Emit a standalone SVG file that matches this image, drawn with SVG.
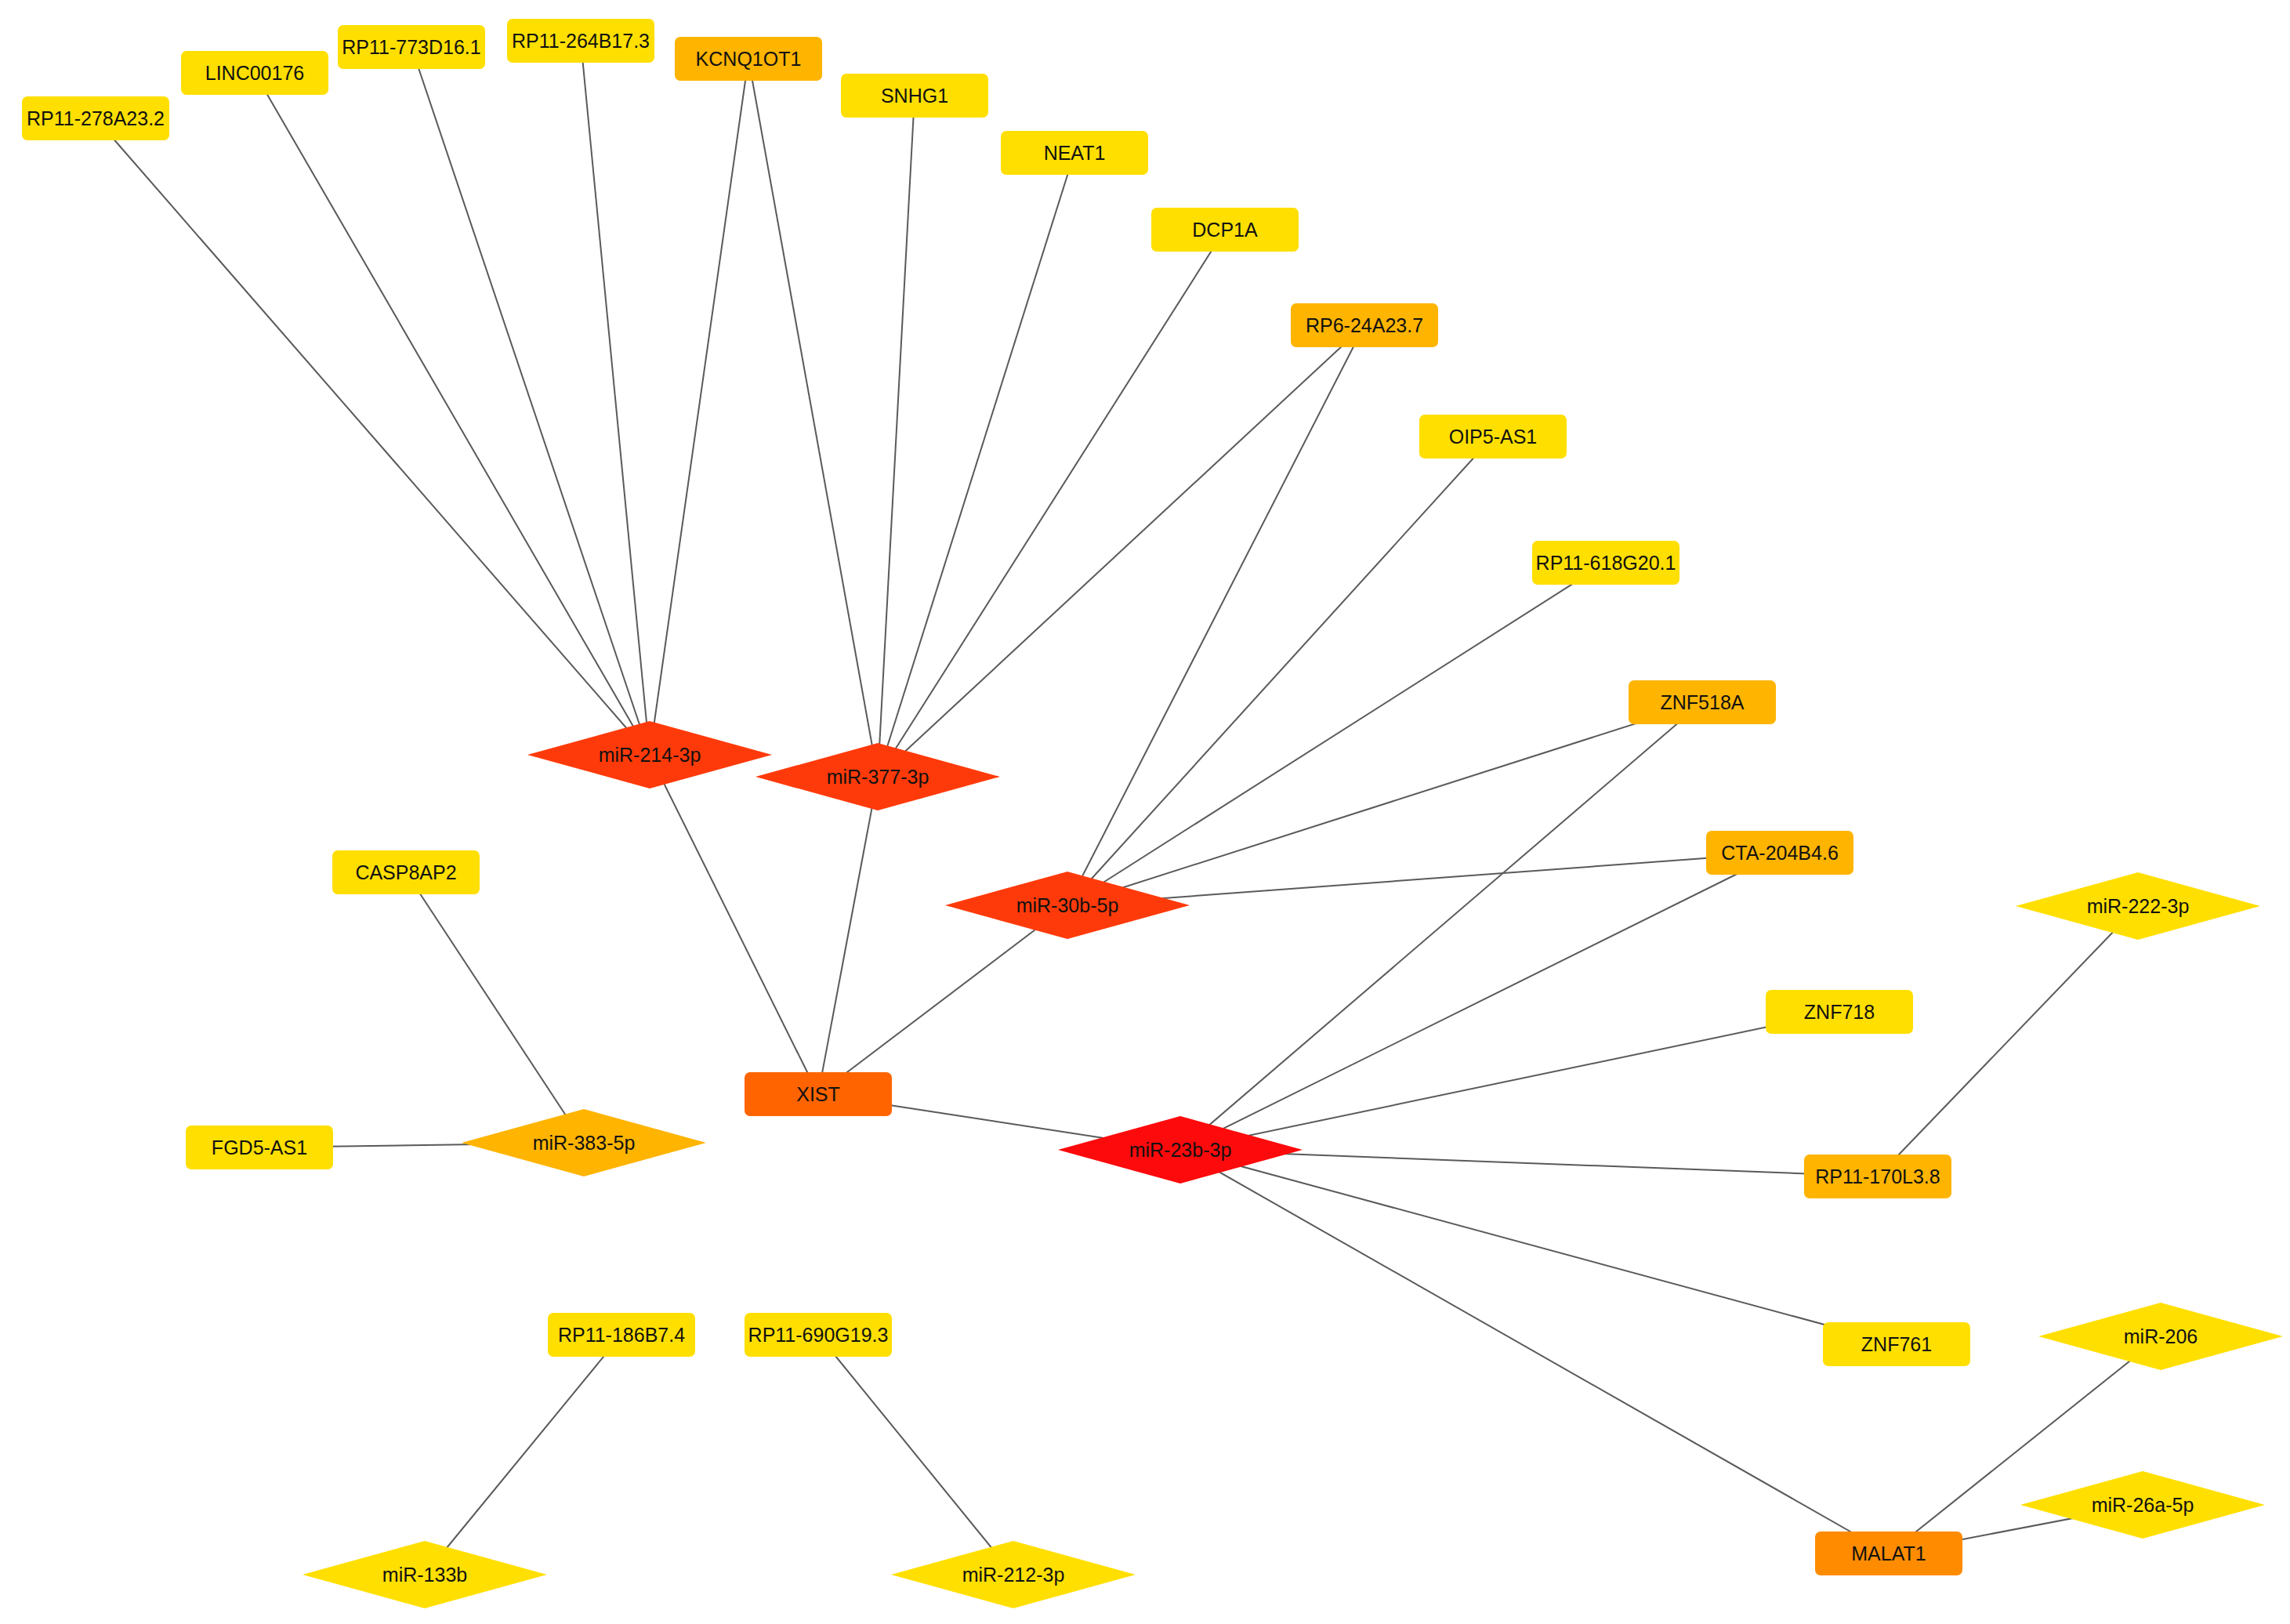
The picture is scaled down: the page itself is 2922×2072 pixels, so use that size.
<svg xmlns="http://www.w3.org/2000/svg" width="2922" height="2072" viewBox="0 0 2922 2072">
<style>
.e{stroke:#5a5a5a;stroke-width:2;fill:none}
.r{rx:7;ry:7}
.y{fill:#FFDF00}
.o{fill:#FFB400}
.m{fill:#FF8C00}
.x{fill:#FF6400}
.d{fill:#FF3A0A}
.rd{fill:#FC0A0C}
text{font-family:"Liberation Sans",Arial,sans-serif;font-size:25px;fill:#111;text-anchor:middle;dominant-baseline:central}
</style>
<rect width="2922" height="2072" fill="#fff"/>
<g id="connectors">
<line class="e" x1="122" y1="151" x2="829" y2="963"/>
<line class="e" x1="325" y1="93" x2="829" y2="963"/>
<line class="e" x1="525" y1="60" x2="829" y2="963"/>
<line class="e" x1="741" y1="52" x2="829" y2="963"/>
<line class="e" x1="955" y1="75" x2="829" y2="963"/>
<line class="e" x1="1044" y1="1396" x2="829" y2="963"/>
<line class="e" x1="955" y1="75" x2="1120" y2="991"/>
<line class="e" x1="1167" y1="122" x2="1120" y2="991"/>
<line class="e" x1="1371" y1="195" x2="1120" y2="991"/>
<line class="e" x1="1563" y1="293" x2="1120" y2="991"/>
<line class="e" x1="1741" y1="415" x2="1120" y2="991"/>
<line class="e" x1="1044" y1="1396" x2="1120" y2="991"/>
<line class="e" x1="1741" y1="415" x2="1362" y2="1155"/>
<line class="e" x1="1905" y1="557" x2="1362" y2="1155"/>
<line class="e" x1="2049" y1="718" x2="1362" y2="1155"/>
<line class="e" x1="2172" y1="896" x2="1362" y2="1155"/>
<line class="e" x1="2271" y1="1088" x2="1362" y2="1155"/>
<line class="e" x1="1044" y1="1396" x2="1362" y2="1155"/>
<line class="e" x1="1044" y1="1396" x2="1506" y2="1467"/>
<line class="e" x1="2172" y1="896" x2="1506" y2="1467"/>
<line class="e" x1="2271" y1="1088" x2="1506" y2="1467"/>
<line class="e" x1="2347" y1="1291" x2="1506" y2="1467"/>
<line class="e" x1="2396" y1="1501" x2="1506" y2="1467"/>
<line class="e" x1="2420" y1="1715" x2="1506" y2="1467"/>
<line class="e" x1="2410" y1="1982" x2="1506" y2="1467"/>
<line class="e" x1="2396" y1="1501" x2="2728" y2="1156"/>
<line class="e" x1="2410" y1="1982" x2="2757" y2="1705"/>
<line class="e" x1="2410" y1="1982" x2="2734" y2="1920"/>
<line class="e" x1="518" y1="1113" x2="745" y2="1458"/>
<line class="e" x1="331" y1="1464" x2="745" y2="1458"/>
<line class="e" x1="793" y1="1703" x2="542" y2="2009"/>
<line class="e" x1="1044" y1="1703" x2="1293" y2="2009"/>
</g>
<g id="n-RP11-278A23.2"><rect class="r y" x="28" y="123" width="188" height="56"/><text x="122" y="151">RP11-278A23.2</text></g>
<g id="n-LINC00176"><rect class="r y" x="231" y="65" width="188" height="56"/><text x="325" y="93">LINC00176</text></g>
<g id="n-RP11-773D16.1"><rect class="r y" x="431" y="32" width="188" height="56"/><text x="525" y="60">RP11-773D16.1</text></g>
<g id="n-RP11-264B17.3"><rect class="r y" x="647" y="24" width="188" height="56"/><text x="741" y="52">RP11-264B17.3</text></g>
<g id="n-KCNQ1OT1"><rect class="r o" x="861" y="47" width="188" height="56"/><text x="955" y="75">KCNQ1OT1</text></g>
<g id="n-SNHG1"><rect class="r y" x="1073" y="94" width="188" height="56"/><text x="1167" y="122">SNHG1</text></g>
<g id="n-NEAT1"><rect class="r y" x="1277" y="167" width="188" height="56"/><text x="1371" y="195">NEAT1</text></g>
<g id="n-DCP1A"><rect class="r y" x="1469" y="265" width="188" height="56"/><text x="1563" y="293">DCP1A</text></g>
<g id="n-RP6-24A23.7"><rect class="r o" x="1647" y="387" width="188" height="56"/><text x="1741" y="415">RP6-24A23.7</text></g>
<g id="n-OIP5-AS1"><rect class="r y" x="1811" y="529" width="188" height="56"/><text x="1905" y="557">OIP5-AS1</text></g>
<g id="n-RP11-618G20.1"><rect class="r y" x="1955" y="690" width="188" height="56"/><text x="2049" y="718">RP11-618G20.1</text></g>
<g id="n-ZNF518A"><rect class="r o" x="2078" y="868" width="188" height="56"/><text x="2172" y="896">ZNF518A</text></g>
<g id="n-CTA-204B4.6"><rect class="r o" x="2177" y="1060" width="188" height="56"/><text x="2271" y="1088">CTA-204B4.6</text></g>
<g id="n-ZNF718"><rect class="r y" x="2253" y="1263" width="188" height="56"/><text x="2347" y="1291">ZNF718</text></g>
<g id="n-RP11-170L3.8"><rect class="r o" x="2302" y="1473" width="188" height="56"/><text x="2396" y="1501">RP11-170L3.8</text></g>
<g id="n-ZNF761"><rect class="r y" x="2326" y="1687" width="188" height="56"/><text x="2420" y="1715">ZNF761</text></g>
<g id="n-MALAT1"><rect class="r m" x="2316" y="1954" width="188" height="56"/><text x="2410" y="1982">MALAT1</text></g>
<g id="n-XIST"><rect class="r x" x="950" y="1368" width="188" height="56"/><text x="1044" y="1396">XIST</text></g>
<g id="n-CASP8AP2"><rect class="r y" x="424" y="1085" width="188" height="56"/><text x="518" y="1113">CASP8AP2</text></g>
<g id="n-FGD5-AS1"><rect class="r y" x="237" y="1436" width="188" height="56"/><text x="331" y="1464">FGD5-AS1</text></g>
<g id="n-RP11-186B7.4"><rect class="r y" x="699" y="1675" width="188" height="56"/><text x="793" y="1703">RP11-186B7.4</text></g>
<g id="n-RP11-690G19.3"><rect class="r y" x="950" y="1675" width="188" height="56"/><text x="1044" y="1703">RP11-690G19.3</text></g>
<g id="n-miR-214-3p"><polygon class="d" points="673,963 829,920 985,963 829,1006"/><text x="829" y="963">miR-214-3p</text></g>
<g id="n-miR-377-3p"><polygon class="d" points="964,991 1120,948 1276,991 1120,1034"/><text x="1120" y="991">miR-377-3p</text></g>
<g id="n-miR-30b-5p"><polygon class="d" points="1206,1155 1362,1112 1518,1155 1362,1198"/><text x="1362" y="1155">miR-30b-5p</text></g>
<g id="n-miR-23b-3p"><polygon class="rd" points="1350,1467 1506,1424 1662,1467 1506,1510"/><text x="1506" y="1467">miR-23b-3p</text></g>
<g id="n-miR-383-5p"><polygon class="o" points="589,1458 745,1415 901,1458 745,1501"/><text x="745" y="1458">miR-383-5p</text></g>
<g id="n-miR-222-3p"><polygon class="y" points="2572,1156 2728,1113 2884,1156 2728,1199"/><text x="2728" y="1156">miR-222-3p</text></g>
<g id="n-miR-206"><polygon class="y" points="2601,1705 2757,1662 2913,1705 2757,1748"/><text x="2757" y="1705">miR-206</text></g>
<g id="n-miR-26a-5p"><polygon class="y" points="2578,1920 2734,1877 2890,1920 2734,1963"/><text x="2734" y="1920">miR-26a-5p</text></g>
<g id="n-miR-133b"><polygon class="y" points="386,2009 542,1966 698,2009 542,2052"/><text x="542" y="2009">miR-133b</text></g>
<g id="n-miR-212-3p"><polygon class="y" points="1137,2009 1293,1966 1449,2009 1293,2052"/><text x="1293" y="2009">miR-212-3p</text></g>
</svg>
